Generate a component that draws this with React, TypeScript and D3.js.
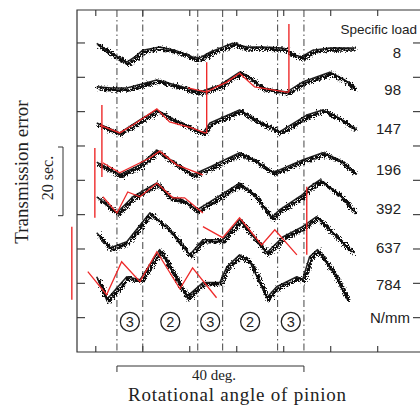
import React from "react";
import * as d3 from "d3";

// Specific loads (N/mm) for each trace, top to bottom
const loads = ["8", "98", "147", "196", "392", "637", "784"];

// Measured transmission error traces: [rotational angle (deg), transmission error (sec)]
const trace8: [number, number][] = [[0.2,79.9],[3.0,77.3],[6.6,74.4],[8.3,75.9],[10.0,77.9],[13.6,78.8],[16.8,77.9],[20.6,75.9],[22.1,75.6],[24.3,77.3],[29.1,79.9],[32.1,78.8],[35.5,78.8],[39.8,78.5],[42.3,76.5],[43.8,75.9],[46.2,77.9],[49.8,78.5],[55.1,78.5]];
const trace98: [number, number][] = [[0.2,67.2],[3.4,66.9],[6.6,66.9],[13.0,69.2],[17.2,67.7],[22.1,65.7],[26.4,67.7],[30.6,71.5],[32.1,70.6],[35.5,66.9],[40.6,65.7],[44.0,68.6],[49.8,71.5],[53.0,69.2],[55.1,66.9]];
const trace147: [number, number][] = [[0.2,56.7],[5.1,53.8],[9.4,57.6],[13.0,60.5],[16.8,57.6],[20.6,55.2],[22.8,53.8],[24.3,56.7],[30.6,60.5],[34.9,57.0],[37.7,55.2],[39.1,54.1],[44.9,59.0],[48.3,60.5],[51.9,58.1],[55.1,55.2]];
const trace196: [number, number][] = [[0.2,45.3],[5.1,41.6],[9.4,44.5],[13.0,48.8],[16.8,45.1],[20.6,41.6],[24.3,43.9],[30.6,48.0],[33.8,45.9],[37.7,42.4],[39.1,43.0],[44.0,45.9],[48.3,48.0],[51.9,45.9],[55.1,42.2]];
const trace392: [number, number][] = [[0.2,35.2],[4.5,30.5],[7.9,35.2],[13.0,39.2],[15.7,35.2],[18.5,34.3],[21.5,31.4],[24.3,33.7],[30.6,39.2],[33.8,35.8],[37.4,29.1],[39.1,31.4],[44.0,35.8],[45.5,38.1],[47.7,40.1],[51.9,35.8],[55.1,30.8]];
const trace637: [number, number][] = [[0.2,24.7],[3.0,20.3],[6.6,22.1],[11.5,30.5],[15.7,25.6],[20.0,18.3],[22.8,22.7],[27.0,22.7],[30.6,28.5],[36.4,18.9],[39.8,23.5],[44.0,26.5],[47.0,29.4],[50.9,24.1],[54.5,19.2]];
const trace784: [number, number][] = [[0.2,11.9],[2.3,5.2],[6.6,11.9],[9.4,11.0],[13.6,19.8],[19.4,6.1],[22.8,10.2],[26.4,10.2],[27.9,14.8],[30.6,18.3],[32.8,16.3],[36.4,5.8],[38.5,9.0],[42.8,11.9],[44.0,11.0],[45.5,17.7],[47.2,19.8],[50.9,12.5],[53.6,5.2]];
const traces = [trace8, trace98, trace147, trace196, trace392, trace637, trace784];

// Calculated (red) curves
const calc98: [number, number][] = [[19.6,66.9],[23.6,65.7],[25.7,67.2],[27.9,68.6],[30.6,71.2],[33.8,67.2],[40.6,65.7],[41.1,65.7]];
const calc147: [number, number][] = [[0.9,56.1],[5.1,53.8],[7.9,56.1],[13.0,60.8],[15.7,57.0],[20.6,55.2],[23.2,53.8],[23.6,53.8]];
const calc196: [number, number][] = [[1.5,45.1],[5.1,42.2],[11.5,46.5],[13.6,48.5],[17.2,44.5],[22.8,41.6]];
const calc392: [number, number][] = [[1.5,35.2],[4.5,30.5],[6.8,36.6],[9.4,35.2],[13.0,39.2],[16.4,34.9],[18.9,34.9],[22.8,30.5]];
const calc637: [number, number][] = [[22.8,26.5],[27.0,23.3],[30.6,29.1],[35.3,21.2],[38.1,25.6],[42.8,18.3]];
const calc784: [number, number][] = [[-1.7,13.4],[2.3,6.7],[5.5,16.3],[9.4,10.5],[13.0,19.2],[17.9,8.4],[20.6,14.5],[25.7,5.8]];
const calcCurves = [calc98, calc147, calc196, calc392, calc637, calc784];

// Red vertical markers: [angle, from, to]
const redBars: [number, number, number][] = [[41.1,65.7,85.5],[23.6,53.8,74.4],[1.3,61.9,41.0],[-0.2,49.4,29.1],[44.9,38.1,18.3],[-5.1,26.5,5.2]];

// Mesh zone boundaries (deg) and zone labels
const zoneBounds = [4.5, 10.0, 21.7, 27.0, 38.7, 44.3];
const zoneLabels = ["3", "2", "3", "2", "3"];

const xTicks = [0, 10, 20, 30, 40, 50, 60];
const yTicks = [0, 10, 20, 30, 40, 50, 60, 70, 80];

// layout
const labelY = [52, 89, 128, 169, 208, 247, 284];

export default function App() {
  const W = 420, H = 408;
  const left = 77, top = 10, right = 422, bottom = 352;
  const x = d3.scaleLinear().domain([-4, 69]).range([left, 420]);
  const y = d3.scaleLinear().domain([-10, 89.6]).range([bottom, top]);
  const line = d3.line<[number, number]>().x(d => x(d[0])).y(d => y(d[1]));
  const serif = "'Liberation Serif', 'Times New Roman', serif";
  const sans = "'Liberation Sans', Arial, sans-serif";
  const red = "#ee2a2a";

  return (
    <svg width={W} height={H} style={{ position: "absolute", left: 0, top: 0, background: "#fff" }}>
      <defs>
        <filter id="jit" x="-5%" y="-40%" width="110%" height="180%">
          <feTurbulence type="turbulence" baseFrequency="1.2 0.45" numOctaves={2} seed={4} result="t" />
          <feDisplacementMap in="SourceGraphic" in2="t" scale={7} xChannelSelector="R" yChannelSelector="G" />
        </filter>
      </defs>
      {/* frame */}
      <path d={`M${right},${top}H${left}V${bottom}H${right}`} fill="none" stroke="#333" strokeWidth={1.2} />
      {/* ticks */}
      {yTicks.map(t => (
        <g key={"y" + t}>
          <line x1={left} x2={left + 8} y1={y(t)} y2={y(t)} stroke="#333" strokeWidth={1.1} />
          <line x1={413} x2={420} y1={y(t)} y2={y(t)} stroke="#333" strokeWidth={1.1} />
        </g>
      ))}
      {xTicks.map(t => (
        <g key={"x" + t}>
          <line x1={x(t)} x2={x(t)} y1={top} y2={top + 6} stroke="#333" strokeWidth={1.1} />
          <line x1={x(t)} x2={x(t)} y1={bottom} y2={bottom - 6} stroke="#333" strokeWidth={1.1} />
        </g>
      ))}
      {/* zone boundaries */}
      {zoneBounds.map(b => (
        <line key={"z" + b} x1={x(b)} x2={x(b)} y1={top} y2={bottom} stroke="#444" strokeWidth={1} strokeDasharray="7,3,1.5,3" />
      ))}
      {/* zone labels */}
      {zoneLabels.map((l, i) => {
        const cx = x((zoneBounds[i] + zoneBounds[i + 1]) / 2);
        const cy = y(-1.2);
        return (
          <g key={"zl" + i}>
            <circle cx={cx} cy={cy} r={9.5} fill="#fff" stroke="#222" strokeWidth={1.3} />
            <text x={cx} y={cy + 5} textAnchor="middle" fontFamily={sans} fontSize={14.5} fill="#222">{l}</text>
          </g>
        );
      })}
      {/* traces */}
      {traces.map((t, i) => (
        <path key={"u" + i} d={line(t) || ""} fill="none" stroke="#222" strokeWidth={1.6} strokeLinejoin="round" />
      ))}
      <g filter="url(#jit)">
        {traces.map((t, i) => (
          <path key={"t" + i} d={line(t) || ""} fill="none" stroke="#111" strokeWidth={3.4} strokeLinejoin="round" />
        ))}
      </g>
      {/* calculated */}
      {calcCurves.map((c, i) => (
        <path key={"c" + i} d={line(c) || ""} fill="none" stroke={red} strokeWidth={1.3} />
      ))}
      {redBars.map((b, i) => (
        <line key={"rb" + i} x1={x(b[0])} x2={x(b[0])} y1={y(b[1])} y2={y(b[2])} stroke={red} strokeWidth={1.4} />
      ))}
      {/* right labels */}
      <text x={417} y={34} textAnchor="end" fontFamily={sans} fontSize={13.5} fill="#222">Specific load</text>
      {loads.map((l, i) => (
        <text key={"l" + l} x={401} y={labelY[i] + 5.5} textAnchor="end" fontFamily={sans} fontSize={15} fill="#222">{l}</text>
      ))}
      <text x={410} y={y(0) + 5.5} textAnchor="end" fontFamily={sans} fontSize={15} fill="#222">N/mm</text>
      {/* 40 deg bracket */}
      <path d={`M${x(zoneBounds[0])},372V366H${x(zoneBounds[5])}V372`} fill="none" stroke="#333" strokeWidth={1} />
      <text x={214} y={380} textAnchor="middle" fontFamily={serif} fontSize={15} fill="#222">40  deg.</text>
      <text x={237} y={401} textAnchor="middle" fontFamily={serif} fontSize={19} textLength={218} fill="#222">Rotational angle of pinion</text>
      {/* y axis label and 20 sec bracket */}
      <text transform={`translate(28,172) rotate(-90)`} textAnchor="middle" fontFamily={serif} fontSize={19} fill="#222">Transmission error</text>
      <path d={`M58,147H63V${147 + (y(0) - y(20))}H58`} fill="none" stroke="#333" strokeWidth={1} />
      <text transform={`translate(53,178) rotate(-90)`} textAnchor="middle" fontFamily={serif} fontSize={16} fill="#222">20  sec.</text>
    </svg>
  );
}
